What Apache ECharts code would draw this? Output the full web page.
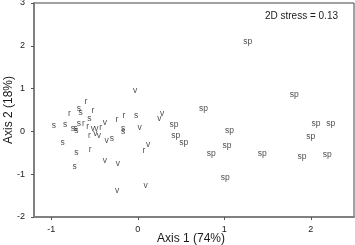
<!DOCTYPE html>
<html>
<head>
<meta charset="utf-8">
<script src="https://cdn.jsdelivr.net/npm/echarts@6/dist/echarts.min.js"></script>
<style>
  html, body { margin: 0; padding: 0; background: #fff; }
  #chart { width: 355px; height: 245px; }
</style>
</head>
<body>
<div id="chart"></div>
<script>
// NMDS ordination scores, one pair of arrays per group
const sX = [-0.97, -0.84, -0.75, -0.72, -0.71, -0.68, -0.68, -0.66, -0.56, -0.87, -0.71, -0.73, -0.02, -0.17, -0.17, -0.30];
const sY = [0.14, 0.15, 0.07, 0.07, 0.01, 0.18, 0.52, 0.44, 0.29, -0.26, -0.49, -0.82, 0.37, 0.06, -0.01, -0.18];

const rX = [-0.60, -0.79, -0.52, -0.63, -0.58, -0.43, -0.56, -0.55, -0.24, -0.16, 0.07];
const rY = [0.70, 0.42, 0.49, 0.18, 0.12, 0.09, -0.11, -0.42, 0.27, 0.36, -0.44];

const vX = [-0.03, -0.38, -0.52, -0.48, -0.49, -0.45, -0.36, 0.02, 0.25, 0.28, 0.12, -0.38, -0.23, -0.24, 0.09];
const vY = [0.95, 0.21, 0.07, 0.06, -0.05, -0.11, -0.22, 0.09, 0.30, 0.42, -0.31, -0.68, -0.75, -1.38, -1.26];

const spX = [1.27, 1.81, 0.76, 0.42, 0.44, 0.53, 0.85, 1.06, 1.03, 1.01, 1.44, 2.06, 2.23, 2.00, 1.90, 2.19];
const spY = [2.09, 0.87, 0.52, 0.15, -0.11, -0.26, -0.52, 0.01, -0.33, -1.08, -0.52, 0.19, 0.19, -0.12, -0.58, -0.54];

const xTicks = [-1, 0, 1, 2];
const stressText = '2D stress = 0.13';

const font = 'Arial, "Liberation Sans", sans-serif';

function makeSeries(name, xs, ys) {
  return {
    name: name,
    type: 'scatter',
    symbol: 'circle',
    symbolSize: 1,
    itemStyle: { color: 'rgba(0,0,0,0)' },
    label: {
      show: true,
      position: 'inside',
      formatter: name,
      color: '#1a1a1a',
      fontSize: 8.5,
      fontFamily: font
    },
    labelLayout: { hideOverlap: false },
    emphasis: { disabled: true },
    data: xs.map((x, i) => [x, ys[i]])
  };
}

const chart = echarts.init(document.getElementById('chart'));
chart.setOption({
  animation: false,
  grid: {
    left: 34, right: 1, top: 3, bottom: 28,
    outerBoundsMode: 'none',
    containLabel: false,
    show: true,
    borderColor: '#444',
    borderWidth: 1
  },
  graphic: [{
    type: 'text',
    right: 17,
    top: 11,
    style: {
      text: stressText,
      fill: '#1a1a1a',
      font: '10px ' + font
    }
  }],
  xAxis: {
    type: 'value',
    min: -1.2,
    max: 2.5,
    name: 'Axis 1 (74%)',
    nameLocation: 'middle',
    nameGap: 16,
    nameMoveOverlap: false,
    nameTextStyle: { fontSize: 12, color: '#1a1a1a', fontFamily: font, verticalAlign: 'top', padding: [0, 6, 0, 0] },
    splitLine: { show: false },
    axisLine: { onZero: false, lineStyle: { color: '#808080', width: 2 } },
    axisTick: { customValues: xTicks, length: 3, lineStyle: { color: '#555' } },
    axisLabel: { customValues: xTicks, fontSize: 9, color: '#1a1a1a', fontFamily: font, margin: 8 }
  },
  yAxis: {
    type: 'value',
    min: -2,
    max: 3,
    interval: 1,
    name: 'Axis 2 (18%)',
    nameLocation: 'middle',
    nameGap: 19,
    nameMoveOverlap: false,
    nameTextStyle: { fontSize: 12, color: '#1a1a1a', fontFamily: font },
    splitLine: { show: false },
    axisLine: { show: true, onZero: false, lineStyle: { color: '#808080', width: 2 } },
    axisTick: { show: true, length: 3, lineStyle: { color: '#555' } },
    axisLabel: { fontSize: 9, color: '#1a1a1a', fontFamily: font, margin: 9 }
  },
  series: [
    makeSeries('s', sX, sY),
    makeSeries('r', rX, rY),
    makeSeries('v', vX, vY),
    makeSeries('sp', spX, spY)
  ]
});
</script>
</body>
</html>
